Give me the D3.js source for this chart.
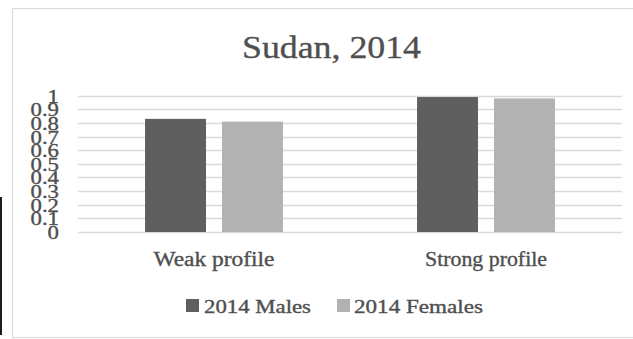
<!DOCTYPE html>
<html>
<head>
<meta charset="utf-8">
<script src="https://cdn.jsdelivr.net/npm/d3@7"></script>
<style>
  html, body { margin: 0; padding: 0; background: #ffffff; }
  svg { display: block; }
</style>
</head>
<body>
<div id="chart"></div>
<script>
// Chart data
const title = "Sudan, 2014";
const categories = ["Weak profile", "Strong profile"];
const seriesNames = ["2014 Males", "2014 Females"];
const males = [0.83, 0.99];
const females = [0.81, 0.98];
const yTickValues = [0, 0.1, 0.2, 0.3, 0.4, 0.5, 0.6, 0.7, 0.8, 0.9, 1];
const yTickLabels = ["0", "0.1", "0.2", "0.3", "0.4", "0.5", "0.6", "0.7", "0.8", "0.9", "1"];
const seriesColors = ["#5f5f5f", "#b2b2b2"];

// Pick the first installed Times-like face
function pickFont(candidates) {
  const ctx = document.createElement("canvas").getContext("2d");
  const sample = "Weak profile 0.123456789 Sudan, 2014 Males";
  ctx.font = "40px monospace";
  const mono = ctx.measureText(sample).width;
  ctx.font = "40px sans-serif";
  const sans = ctx.measureText(sample).width;
  for (const f of candidates) {
    ctx.font = `40px "${f}", monospace`;
    const a = ctx.measureText(sample).width;
    ctx.font = `40px "${f}", sans-serif`;
    const b = ctx.measureText(sample).width;
    if (a !== mono || b !== sans) return f;
  }
  return "serif";
}
const FONT = pickFont(["Liberation Serif", "Times New Roman", "Tinos", "Nimbus Roman",
  "Nimbus Roman No9 L", "FreeSerif", "Noto Serif", "DejaVu Serif"]);
const TEXT = "#4f4f4f";

const W = 633, H = 339;
const plot = { left: 78, right: 622, top: 95.7, bottom: 232 };

const svg = d3.select("#chart").append("svg")
  .attr("width", W).attr("height", H)
  .style("font-family", `"${FONT}", serif`);

svg.append("rect").attr("width", W).attr("height", H).attr("fill", "#ffffff");

// Chart area frame (open on the right) and the dark rule at the far left
svg.append("path")
  .attr("d", `M${W + 2},8.5 H12.5 V337.5 H${W + 2}`)
  .attr("fill", "none").attr("stroke", "#d9d9d9").attr("stroke-width", 1);
svg.append("line")
  .attr("x1", 1).attr("x2", 1).attr("y1", 197).attr("y2", 335)
  .attr("stroke", "#1e1e1e").attr("stroke-width", 2);

// Scales
const y = d3.scaleLinear().domain([0, 1]).range([plot.bottom, plot.top]);
const x0 = d3.scaleBand().domain(categories).range([plot.left, plot.right]).padding(0);
const groupHalf = x0.bandwidth() * 0.2535;
const x1 = d3.scaleBand().domain(seriesNames)
  .range([x0.bandwidth() / 2 - groupHalf, x0.bandwidth() / 2 + groupHalf])
  .paddingInner(16 / 77).paddingOuter(0);

// Gridlines
svg.append("g")
  .selectAll("line")
  .data(yTickValues)
  .join("line")
  .attr("x1", plot.left).attr("x2", plot.right)
  .attr("y1", d => Math.round(y(d)) + 0.5).attr("y2", d => Math.round(y(d)) + 0.5)
  .attr("stroke", "#d9d9d9").attr("stroke-width", 1.3);

// shared text styling: slightly heavy strokes on the serif face
function ink(sel) {
  return sel.attr("fill", TEXT).attr("stroke", TEXT).attr("stroke-width", 0.35);
}

// Y axis labels (no axis line); the face is drawn wide
const yAxis = d3.axisLeft(y).tickValues(yTickValues)
  .tickFormat((d, i) => yTickLabels[i]).tickSize(0).tickPadding(0);
const yAxisG = svg.append("g").attr("transform", "translate(59,0)").call(yAxis)
  .attr("font-family", null).attr("font-size", null);
yAxisG.select(".domain").remove();
yAxisG.selectAll(".tick text")
  .attr("x", 0).attr("dy", "0.34em")
  .attr("font-size", 19)
  .attr("transform", "scale(1.2,1)")
  .call(ink);

// Bars
const rows = categories.map((c, i) => ({ category: c, values: [males[i], females[i]] }));
const groups = svg.append("g").selectAll("g")
  .data(rows).join("g")
  .attr("transform", d => `translate(${x0(d.category)},0)`);
groups.selectAll("rect")
  .data(d => d.values.map((v, j) => ({ series: seriesNames[j], value: v, j })))
  .join("rect")
  .attr("x", d => x1(d.series))
  .attr("width", x1.bandwidth())
  .attr("y", d => y(d.value))
  .attr("height", d => y(0) - y(d.value))
  .attr("fill", d => seriesColors[d.j]);

// Category labels
const catWidths = { "Weak profile": 121, "Strong profile": 122 };
const xAxis = d3.axisBottom(x0).tickSize(0).tickPadding(0);
const xAxisG = svg.append("g").attr("transform", `translate(0,${plot.bottom})`).call(xAxis)
  .attr("font-family", null).attr("font-size", null);
xAxisG.select(".domain").remove();
xAxisG.selectAll(".tick text")
  .attr("y", 34).attr("dy", 0)
  .attr("font-size", 20)
  .attr("textLength", d => catWidths[d])
  .attr("lengthAdjust", "spacingAndGlyphs")
  .call(ink);

// Title
svg.append("text")
  .attr("x", 331.5).attr("y", 58)
  .attr("text-anchor", "middle")
  .attr("font-size", 32)
  .attr("textLength", 179).attr("lengthAdjust", "spacingAndGlyphs")
  .text(title)
  .call(ink);

// Legend
const legendItems = [
  { name: seriesNames[0], color: seriesColors[0], sx: 186, tx: 204, tw: 107 },
  { name: seriesNames[1], color: seriesColors[1], sx: 337, tx: 354, tw: 129 }
];
const legend = svg.append("g");
legend.selectAll("rect").data(legendItems).join("rect")
  .attr("x", d => d.sx).attr("y", 299).attr("width", 13).attr("height", 13)
  .attr("fill", d => d.color);
legend.selectAll("text").data(legendItems).join("text")
  .attr("x", d => d.tx).attr("y", 313)
  .attr("font-size", 18)
  .attr("textLength", d => d.tw).attr("lengthAdjust", "spacingAndGlyphs")
  .text(d => d.name)
  .call(ink);
</script>
</body>
</html>
